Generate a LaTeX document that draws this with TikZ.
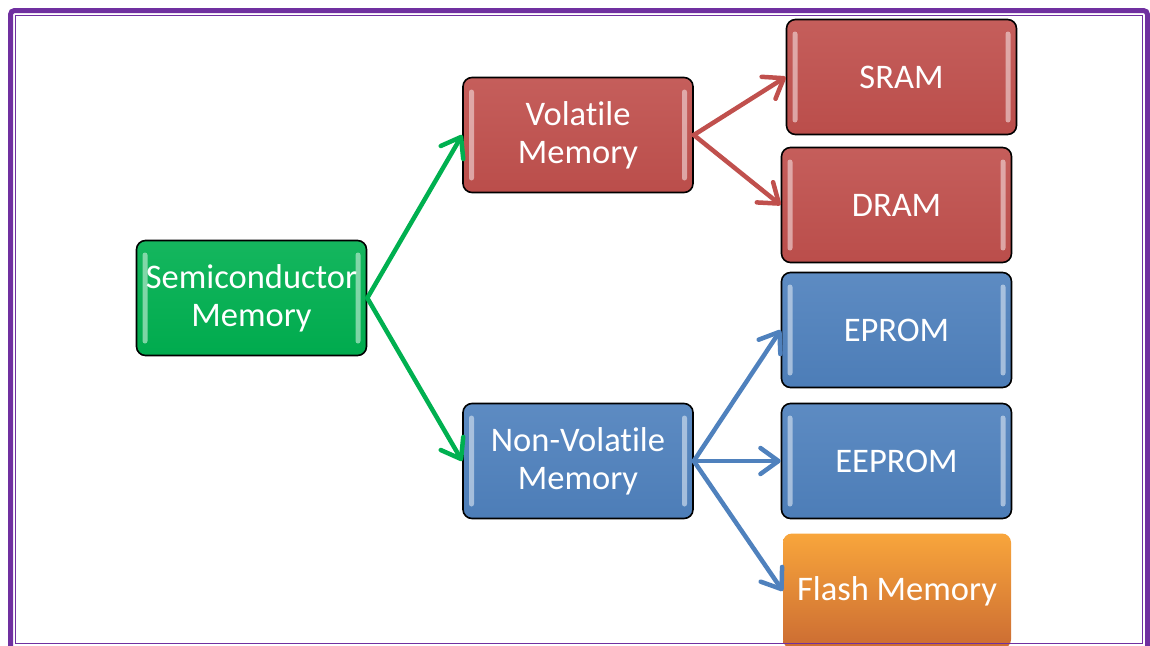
\documentclass[tikz,border=0pt]{standalone}
\usepackage{fontspec}
\setmainfont[Ligatures=NoCommon]{Carlito}
\usetikzlibrary{arrows.meta}
\definecolor{mgreen}{HTML}{00B050}
\definecolor{mred}{HTML}{C0504D}
\definecolor{mblue}{HTML}{4F81BD}
\definecolor{morange}{HTML}{F79646}
\definecolor{mpurple}{HTML}{7030A0}
\tikzset{
  memtext/.style={text=white, font=\fontsize{34.5}{38}\selectfont, align=center, inner sep=0pt},
  membox/.style={memtext, rounded corners=9pt, draw=black, line width=1.6pt,
    minimum width=230pt, minimum height=115pt,
    top color=#1!92!white, bottom color=#1!97!black,
    path picture={
      \fill[#1!30!white, rounded corners=2.5pt, opacity=0.7]
        ([shift={(6pt,-12pt)}]path picture bounding box.north west) rectangle
        ([shift={(11pt,12pt)}]path picture bounding box.south west);
      \fill[#1!30!white, rounded corners=2.5pt, opacity=0.7]
        ([shift={(-11pt,-12pt)}]path picture bounding box.north east) rectangle
        ([shift={(-6pt,12pt)}]path picture bounding box.south east);
    }},
  flashbox/.style={memtext, rounded corners=9pt, minimum width=228pt, minimum height=115pt,
    top color=morange!85!yellow, bottom color=morange!80!black!90!red},
  memarrow/.style={draw=#1, line width=4.5pt, line cap=round,
    -{Straight Barb[length=18pt, width=26pt, line width=4.5pt, round]}},
  frameouter/.style={draw=mpurple, line width=5pt, rounded corners=4pt},
  frameinner/.style={draw=mpurple, line width=1.6pt}
}
\begin{document}
\begin{tikzpicture}[x=1pt,y=-1pt]
\useasboundingbox (0,0) rectangle (1150,645);
\begin{scope}
\clip (0,0) rectangle (1150,645);
\node[membox=mgreen] (semi) at (251.5,298) {Semiconductor\\Memory};
\node[membox=mred] (vol) at (578,135) {Volatile\\Memory};
\node[membox=mblue] (nonvol) at (578,461) {Non-Volatile\\Memory};
\node[membox=mred] (sram) at (901.5,77) {SRAM};
\node[membox=mred] (dram) at (896.5,205) {DRAM};
\node[membox=mblue] (eprom) at (896.5,330) {EPROM};
\node[membox=mblue] (eeprom) at (896.5,461) {EEPROM};
\node[flashbox] (flash) at (897,591) {Flash Memory};

\draw[memarrow=mgreen] (semi.east) -- (vol.west);
\draw[memarrow=mgreen] (semi.east) -- (nonvol.west);
\draw[memarrow=mred] (vol.east) -- (sram.west);
\draw[memarrow=mred] (vol.east) -- (dram.west);
\draw[memarrow=mblue] (nonvol.east) -- (eprom.west);
\draw[memarrow=mblue] (nonvol.east) -- (eeprom.west);
\draw[memarrow=mblue] (nonvol.east) -- (flash.west);

\draw[frameouter] (10.5,660) -- (10.5,10.5) -- (1147.5,10.5) -- (1147.5,660);
\draw[frameinner] (15.5,643.5) rectangle (1142.5,15.5);
\end{scope}
\end{tikzpicture}
\end{document}
